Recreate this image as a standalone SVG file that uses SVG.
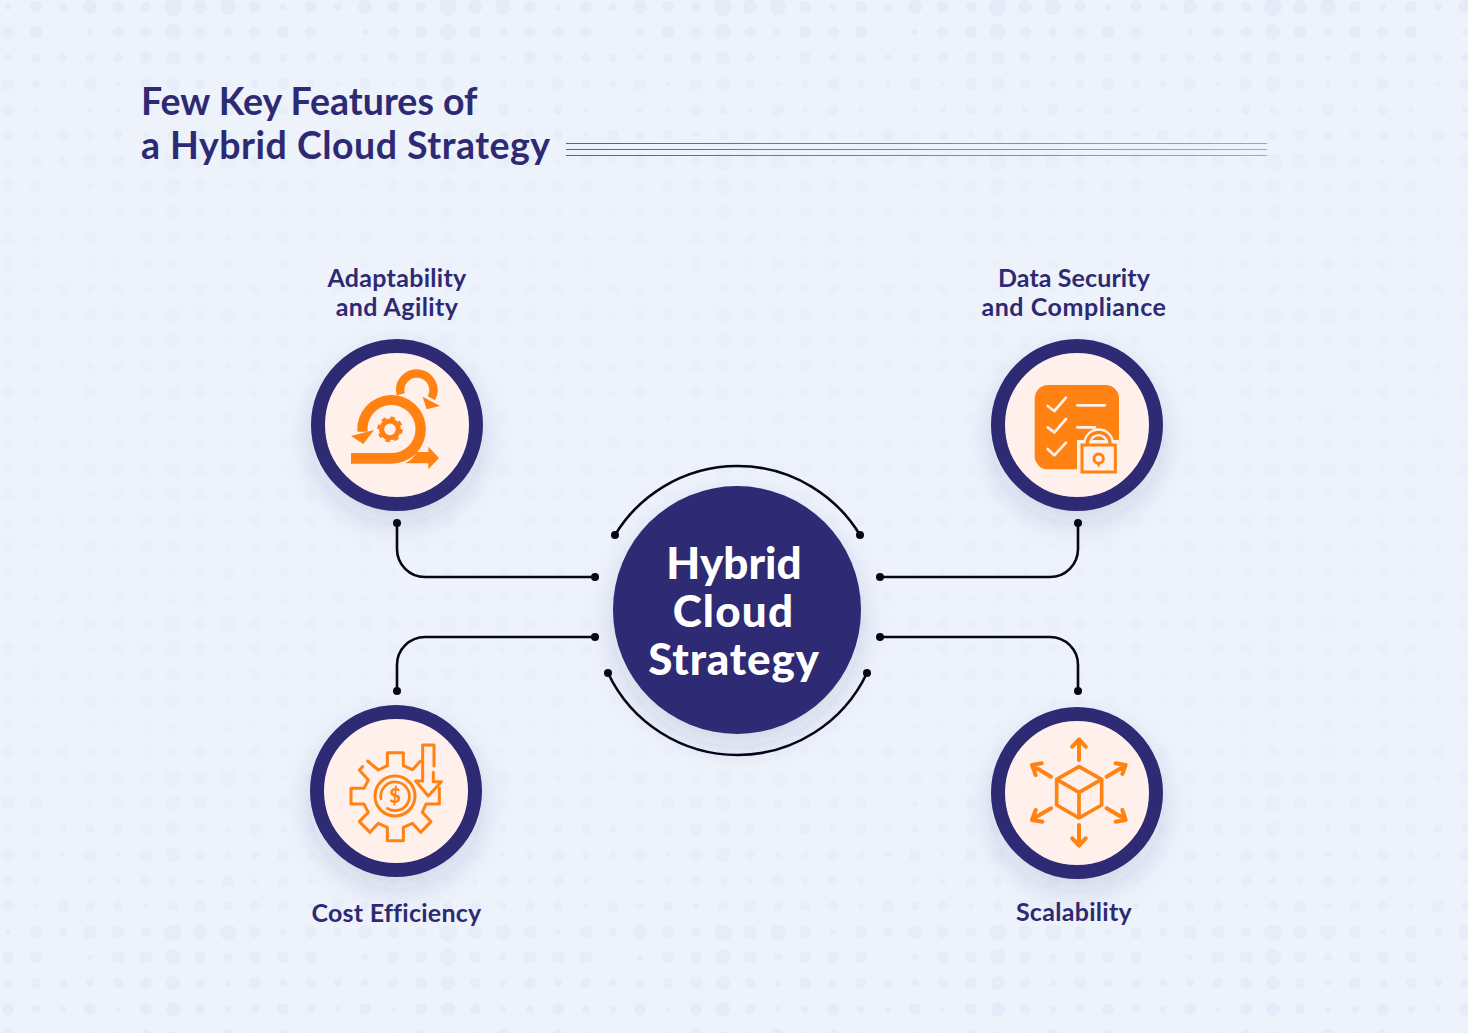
<svg xmlns="http://www.w3.org/2000/svg" width="1468" height="1033" viewBox="0 0 1468 1033">
<style>
.t{font-family:"Lato","Noto Sans",sans-serif;fill:#2D2A73;text-anchor:middle;font-variant-ligatures:none}
.h{font-size:37.5px;font-weight:700;text-anchor:start}
.l{font-size:25px;font-weight:700}
.c{font-size:44px;font-weight:900;fill:#fff}
.ring{fill:#FFF0EB;stroke:#2D2A73;stroke-width:14}
.o{fill:none;stroke:#FF8212;stroke-linecap:round;stroke-linejoin:round}
.f{fill:#FF8212}
.w{fill:none;stroke:#FFF0EB;stroke-linecap:round;stroke-linejoin:round}
.cn{fill:none;stroke:#060616;stroke-width:2.6}
.d{fill:#060616}
.r{stroke:url(#rule);stroke-width:1}
</style>
<defs>
<linearGradient id="rule" gradientUnits="userSpaceOnUse" x1="566" y1="0" x2="1267" y2="0"><stop offset="0" stop-color="#5E5A9C"/><stop offset="1" stop-color="#A5A3CB"/></linearGradient>
<filter id="s" x="-50%" y="-50%" width="200%" height="200%"><feDropShadow dx="0" dy="12" stdDeviation="14" flood-color="#2D2A73" flood-opacity=".14"/></filter>
<linearGradient id="fade" x1="0" y1="0" x2="0" y2="1">
<stop offset="0" stop-color="#fff" stop-opacity=".85"/><stop offset=".1" stop-color="#fff" stop-opacity=".6"/><stop offset=".22" stop-color="#fff" stop-opacity=".2"/><stop offset=".7" stop-color="#fff" stop-opacity=".2"/><stop offset=".88" stop-color="#fff" stop-opacity=".65"/><stop offset="1" stop-color="#fff" stop-opacity=".9"/>
</linearGradient>
<mask id="m" maskUnits="userSpaceOnUse" x="0" y="0" width="1468" height="1033"><rect width="1468" height="1033" fill="url(#fade)"/></mask>
<pattern id="dots" patternUnits="userSpaceOnUse" width="275" height="154.2">
<g fill="#E3EAF7">
<circle cx="8" cy="7" r="3"/><circle cx="36" cy="7" r="6"/><circle cx="63" cy="7" r="4"/><circle cx="90" cy="7" r="7"/><circle cx="118" cy="7" r="6"/><circle cx="146" cy="7" r="5"/><circle cx="173" cy="7" r="9"/><circle cx="200" cy="7" r="7"/><circle cx="228" cy="7" r="8"/><circle cx="255" cy="7" r="6"/>
<circle cx="8" cy="32" r="6"/><circle cx="36" cy="32" r="6"/><circle cx="63" cy="32" r="1"/><circle cx="90" cy="32" r="3"/><circle cx="118" cy="32" r="6"/><circle cx="146" cy="32" r="6"/><circle cx="173" cy="32" r="8"/><circle cx="200" cy="32" r="6"/><circle cx="228" cy="32" r="4"/><circle cx="255" cy="32" r="6"/>
<circle cx="8" cy="58" r="4"/><circle cx="36" cy="58" r="5"/><circle cx="63" cy="58" r="4"/><circle cx="90" cy="58" r="4"/><circle cx="118" cy="58" r="5"/><circle cx="146" cy="58" r="6"/><circle cx="173" cy="58" r="7"/><circle cx="200" cy="58" r="5"/><circle cx="228" cy="58" r="3"/><circle cx="255" cy="58" r="6"/>
<circle cx="8" cy="84" r="6"/><circle cx="36" cy="84" r="4"/><circle cx="63" cy="84" r="3"/><circle cx="90" cy="84" r="6"/><circle cx="118" cy="84" r="2"/><circle cx="146" cy="84" r="6"/><circle cx="173" cy="84" r="7"/><circle cx="200" cy="84" r="5"/><circle cx="228" cy="84" r="3"/><circle cx="255" cy="84" r="4"/>
<circle cx="8" cy="110" r="5"/><circle cx="36" cy="110" r="3"/><circle cx="90" cy="110" r="3"/><circle cx="118" cy="110" r="3"/><circle cx="146" cy="110" r="5"/><circle cx="173" cy="110" r="4"/><circle cx="200" cy="110" r="3"/><circle cx="228" cy="110" r="6"/><circle cx="255" cy="110" r="3"/>
<circle cx="8" cy="135" r="5"/><circle cx="36" cy="135" r="3"/><circle cx="63" cy="135" r="6"/><circle cx="90" cy="135" r="4"/><circle cx="118" cy="135" r="5"/><circle cx="146" cy="135" r="3"/><circle cx="173" cy="135" r="5"/><circle cx="200" cy="135" r="6"/><circle cx="228" cy="135" r="4"/><circle cx="255" cy="135" r="5"/>
</g>
</pattern>
</defs>
<rect width="1468" height="1033" fill="#EDF2FB"/>
<rect width="1468" height="1033" fill="url(#dots)" mask="url(#m)"/>

<g id="title">
<text class="t h" x="141" y="115">Few Key Features of</text>
<text class="t h" x="141" y="159" letter-spacing=".48">a Hybrid Cloud Strategy</text>
<rect x="566" y="143" width="701" height="1" fill="url(#rule)"/>
<rect x="566" y="149" width="701" height="1" fill="url(#rule)"/>
<rect x="566" y="155" width="701" height="1" fill="url(#rule)"/>
</g>

<g id="connectors">
<path class="cn" d="M397 523V549A28 28 0 0 0 425 577H595"/>
<path class="cn" d="M1078 523V549A28 28 0 0 1 1050 577H880"/>
<path class="cn" d="M397 691V665A28 28 0 0 1 425 637H595"/>
<path class="cn" d="M1078 691V665A28 28 0 0 0 1050 637H880"/>
<path class="cn" d="M615 535A143.2 143.2 0 0 1 860 535"/>
<path class="cn" d="M608 673A143.3 143.3 0 0 0 867 673"/>
<circle class="d" cx="397" cy="523" r="4"/><circle class="d" cx="595" cy="577" r="4"/>
<circle class="d" cx="1078" cy="523" r="4"/><circle class="d" cx="880" cy="577" r="4"/>
<circle class="d" cx="397" cy="691" r="4"/><circle class="d" cx="595" cy="637" r="4"/>
<circle class="d" cx="1078" cy="691" r="4"/><circle class="d" cx="880" cy="637" r="4"/>
<circle class="d" cx="615" cy="535" r="4"/><circle class="d" cx="860" cy="535" r="4"/>
<circle class="d" cx="608" cy="673" r="4"/><circle class="d" cx="867" cy="673" r="4"/>
</g>

<g id="center">
<circle cx="737" cy="610" r="124" fill="#2D2A73" filter="url(#s)"/>
<text class="t c" x="734" y="579">Hybrid</text>
<text class="t c" x="733.5" y="627" letter-spacing="1.2">Cloud</text>
<text class="t c" x="734" y="675" letter-spacing=".8">Strategy</text>
</g>

<g id="adaptability">
<text class="t l" x="397" y="287" letter-spacing=".3">Adaptability</text>
<text class="t l" x="397" y="316" letter-spacing=".4">and Agility</text>
<circle class="ring" cx="397" cy="425" r="79" filter="url(#s)"/>
<g transform="translate(300 330) scale(.33333)">
<path class="f" d="M153 369H272A72 72 0 1 0 203 305H172A103 103 0 1 1 272 401H153Z"/>
<path class="f" d="M153 318L222 300L190 342Z"/>
<path fill="none" stroke="#FF8212" stroke-width="25" d="M302 193A50 50 0 1 1 394 205"/>
<path class="f" d="M368 200L420 228L380 238Z"/>
<path class="f" d="M315 400Q340 388 350 366H385V350L417 384L385 418V400Z"/>
<circle cx="270" cy="298" r="25" fill="none" stroke="#FF8212" stroke-width="15"/>
<circle cx="270" cy="298" r="33" fill="none" stroke="#FF8212" stroke-width="11" stroke-dasharray="13 12.9"/>
</g>
</g>

<g id="data-security">
<text class="t l" x="1074" y="287" letter-spacing=".1">Data Security</text>
<text class="t l" x="1074" y="316" letter-spacing=".55">and Compliance</text>
<circle class="ring" cx="1077" cy="425" r="79" filter="url(#s)"/>
<g transform="translate(985 330) scale(.33333)">
<rect class="f" x="149" y="165" width="253" height="253" rx="40"/>
<path class="w" stroke-width="8" d="M188 228L208 243L243 203M188 292L208 307L243 267M188 357L208 376L243 338"/>
<path class="w" stroke-width="8" d="M277 226H360M277 292H330"/>
<rect x="276" y="330" width="127" height="100" fill="#FFF0EB"/>
<path d="M307 345V340A34 33 0 0 1 375 340V345" fill="none" stroke="#FFF0EB" stroke-width="24"/>
<path d="M307 345V340A34 33 0 0 1 375 340V345" fill="none" stroke="#FF8212" stroke-width="10"/>
<rect x="291" y="345" width="100" height="81" fill="#FFF0EB" stroke="#FF8212" stroke-width="9"/>
<circle cx="341" cy="386" r="14" fill="none" stroke="#FF8212" stroke-width="9"/>
<path class="f" d="M335 398H347L341 414Z"/>
</g>
</g>

<g id="cost-efficiency">
<circle class="ring" cx="396" cy="791" r="79" filter="url(#s)"/>
<text class="t l" x="396.5" y="922" letter-spacing=".25">Cost Efficiency</text>
<g transform="translate(300 695) scale(.33333)">
<path class="o" stroke-width="9" d="M188 215L178 225L205 255L192 280H153V327H192L205 352L178 380L210 412L235 385L262 397V437H310V397L337 385L362 412L393 380L367 352L378 327H418V280"/>
<path class="o" stroke-width="9" d="M203 198L235 225L262 212V173H310V212L337 224L362 198"/>
<path class="o" stroke-width="9" d="M402 213V150H368V258H347L385 303L424 260H400V232"/>
<circle cx="285" cy="303" r="60" fill="none" stroke="#FF8212" stroke-width="9"/>
<path class="o" stroke-width="8" d="M243 312A43 43 0 1 1 262 340"/>
<text x="285" y="324" font-family="Lato,sans-serif" font-weight="900" font-size="60" fill="#FF8212" text-anchor="middle">$</text>
</g>
</g>

<g id="scalability">
<circle class="ring" cx="1077" cy="793" r="79" filter="url(#s)"/>
<text class="t l" x="1074" y="921" letter-spacing=".3">Scalability</text>
<g transform="translate(985 700) scale(.33333)">
<path class="o" stroke-width="11" d="M282 200L350 238V315L282 354L215 315V238ZM215 238L282 277L350 238M282 277V354"/>
<path class="o" stroke-width="12" d="M282 180V120M262 140L282 118L302 140M282 375V435M262 415L282 437L302 415M365 230L420 197M392 190L422 195L412 222M365 325L420 357M412 330L422 360L392 365M198 230L143 197M170 190L141 195L152 225M198 325L143 357M152 330L141 360L172 365"/>
</g>
</g>
</svg>
